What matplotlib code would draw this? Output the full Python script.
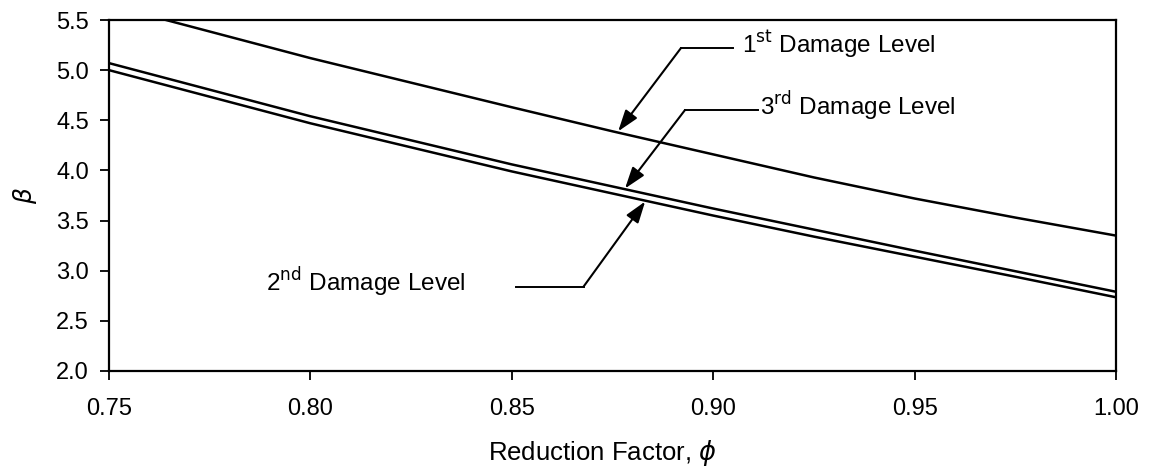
import matplotlib
matplotlib.use("Agg")
import matplotlib.pyplot as plt

plt.rcParams['font.family'] = ['Liberation Sans', 'DejaVu Sans']
plt.rcParams['mathtext.fontset'] = 'dejavusans'

# Reduction factor and reliability index for the three damage levels
phi = [0.75, 0.80, 0.85, 0.875, 0.90, 0.925, 0.95, 0.975, 1.00]
beta_1st = [5.65, 5.12, 4.63, 4.39, 4.16, 3.93, 3.72, 3.53, 3.35]
beta_2nd = [5.00, 4.47, 3.99, 3.77, 3.55, 3.34, 3.14, 2.94, 2.735]
beta_3rd = [5.07, 4.54, 4.06, 3.84, 3.62, 3.41, 3.20, 2.995, 2.79]

xticks = [0.75, 0.80, 0.85, 0.90, 0.95, 1.00]
yticks = [2.0, 2.5, 3.0, 3.5, 4.0, 4.5, 5.0, 5.5]

fig = plt.figure(figsize=(11.49, 4.72), dpi=100)
ax = fig.add_axes([0.0949, 0.214, 0.8764, 0.7436])

for b in (beta_1st, beta_2nd, beta_3rd):
    ax.plot(phi, b, color='black', lw=1.8)

ax.set_xlim(0.75, 1.00)
ax.set_ylim(2.0, 5.5)
ax.set_xticks(xticks)
ax.set_xticklabels(['%.2f' % v for v in xticks])
ax.set_yticks(yticks)
ax.set_yticklabels(['%.1f' % v for v in yticks])
ax.tick_params(direction='out', length=6.5, width=1.3, labelsize=17)
ax.tick_params(axis='x', pad=13)
ax.tick_params(axis='y', pad=8)
for s in ax.spines.values():
    s.set_linewidth(1.6)

ax.set_xlabel(r'Reduction Factor, $\phi$', fontsize=18.5, labelpad=13)
ax.xaxis.label.set_x(0.49)
ax.set_ylabel(r'$\beta$', fontsize=18, labelpad=12)

# annotations with elbow leaders
def label(text, tx, ty, ex, hx, ly, tipx, tipy, ha):
    ax.plot([ex, hx], [ly, ly], color='black', lw=1.4, clip_on=False)
    ax.annotate('', xy=(tipx, tipy), xytext=(ex, ly),
                arrowprops=dict(arrowstyle='-|>,head_length=0.65,head_width=0.22',
                                color='black', lw=1.5,
                                mutation_scale=20, shrinkA=0, shrinkB=0))
    ax.text(tx, ty, text, fontsize=17.5, ha=ha, va='baseline')

label(r'1$^{\mathrm{st}}$ Damage Level', 0.9071, 5.168, 0.892, 0.9049, 5.221, 0.8764, 4.39, 'left')
label(r'3$^{\mathrm{rd}}$ Damage Level', 0.9116, 4.553, 0.893, 0.9111, 4.603, 0.8781, 3.82, 'left')
label(r'2$^{\mathrm{nd}}$ Damage Level', 0.8386, 2.791, 0.8678, 0.8510, 2.841, 0.8831, 3.69, 'right')

fig.savefig('out.png', dpi=100)
